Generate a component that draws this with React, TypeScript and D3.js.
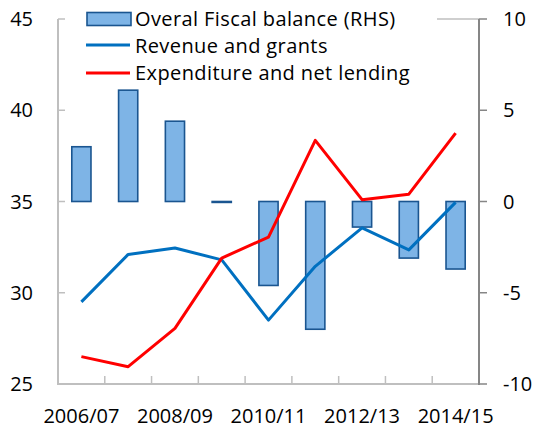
import React from "react";
import * as d3 from "d3";

const categories = ["2006/07", "2007/08", "2008/09", "2009/10", "2010/11", "2011/12", "2012/13", "2013/14", "2014/15"];
const balance = [3.0, 6.1, 4.4, -0.05, -4.6, -7.0, -1.4, -3.1, -3.7];
const revenue = [29.5, 32.1, 32.45, 31.8, 28.5, 31.45, 33.55, 32.35, 34.95];
const expenditure = [26.5, 25.95, 28.05, 31.9, 33.05, 38.35, 35.1, 35.4, 38.75];
const leftTicks = [25, 30, 35, 40, 45];
const rightTicks = [-10, -5, 0, 5, 10];
const xLabels = ["2006/07", "2008/09", "2010/11", "2012/13", "2014/15"];
const legendLabels = ["Overal Fiscal balance (RHS)", "Revenue and grants", "Expenditure and net lending"];

const W = 536, H = 430;
const L = 58, R = 479, T = 19, B = 384;
const font = "'Open Sans', Lato, sans-serif";

export default function App() {
  const x = d3.scaleBand<string>().domain(categories).range([L, R]).padding(0);
  const yl = d3.scaleLinear().domain([25, 45]).range([B, T]);
  const yr = d3.scaleLinear().domain([-10, 10]).range([B, T]);
  const cx = (c: string) => (x(c) as number) + x.bandwidth() / 2;
  const bw = x.bandwidth() * 0.41;
  const line = d3.line<number>().x((_, i) => cx(categories[i])).y((d) => yl(d));

  return (
    <svg width={W} height={H} style={{ position: "absolute", left: 0, top: 0, background: "#fff" }}>
      {balance.map((v, i) => {
        const y0 = yr(0), y1 = yr(v);
        return (
          <rect key={i} x={cx(categories[i]) - bw / 2} y={Math.min(y0, y1)} width={bw}
            height={Math.max(Math.abs(y1 - y0), 0.5)} fill="#7eb4e6" stroke="#1a5590" strokeWidth={1.6} />
        );
      })}
      <path d={line(revenue) || ""} fill="none" stroke="#0070c0" strokeWidth={3} strokeLinejoin="round" />
      <path d={line(expenditure) || ""} fill="none" stroke="#ff0000" strokeWidth={3} strokeLinejoin="round" />

      <line x1={L} x2={L} y1={T} y2={B + 1} stroke="#bfbfbf" strokeWidth={2} />
      {leftTicks.map((t) => (
        <g key={t}>
          <line x1={L} x2={L + 7} y1={yl(t)} y2={yl(t)} stroke="#bfbfbf" strokeWidth={1.5} />
          <text x={33} y={yl(t)} dy="0.35em" textAnchor="end" fontSize={20} fontFamily={font} fill="#000">{t}</text>
        </g>
      ))}
      <line x1={L - 1} x2={R} y1={B} y2={B} stroke="#bfbfbf" strokeWidth={2} />
      {categories.slice(1).map((c) => (
        <line key={c} x1={x(c) as number} x2={x(c) as number} y1={B} y2={B - 8} stroke="#bfbfbf" strokeWidth={1.5} />
      ))}
      {xLabels.map((c) => (
        <text key={c} x={cx(c)} y={416} dy="0.35em" textAnchor="middle" fontSize={20} fontFamily={font} fill="#000">{c}</text>
      ))}
      <line x1={437} x2={R} y1={T} y2={T} stroke="#bfbfbf" strokeWidth={1.5} />
      <line x1={R} x2={R} y1={T} y2={B + 1} stroke="#868686" strokeWidth={2} />
      {rightTicks.map((t) => (
        <g key={t}>
          <line x1={R} x2={R + 8} y1={yr(t)} y2={yr(t)} stroke="#868686" strokeWidth={1.5} />
          <text x={503} y={yr(t)} dy="0.35em" textAnchor="start" fontSize={20} fontFamily={font} fill="#000">{t}</text>
        </g>
      ))}

      <rect x={87} y={12.5} width={44} height={13} fill="#7eb4e6" stroke="#1a5590" strokeWidth={1.6} />
      <line x1={86} x2={130} y1={45} y2={45} stroke="#0070c0" strokeWidth={3} />
      <line x1={86} x2={130} y1={73} y2={73} stroke="#ff0000" strokeWidth={3} />
      {legendLabels.map((l, i) => (
        <text key={l} x={135} y={[19, 46, 73][i]} dy="0.35em" fontSize={20} letterSpacing={0.4} fontFamily={font} fill="#000">{l}</text>
      ))}
    </svg>
  );
}
